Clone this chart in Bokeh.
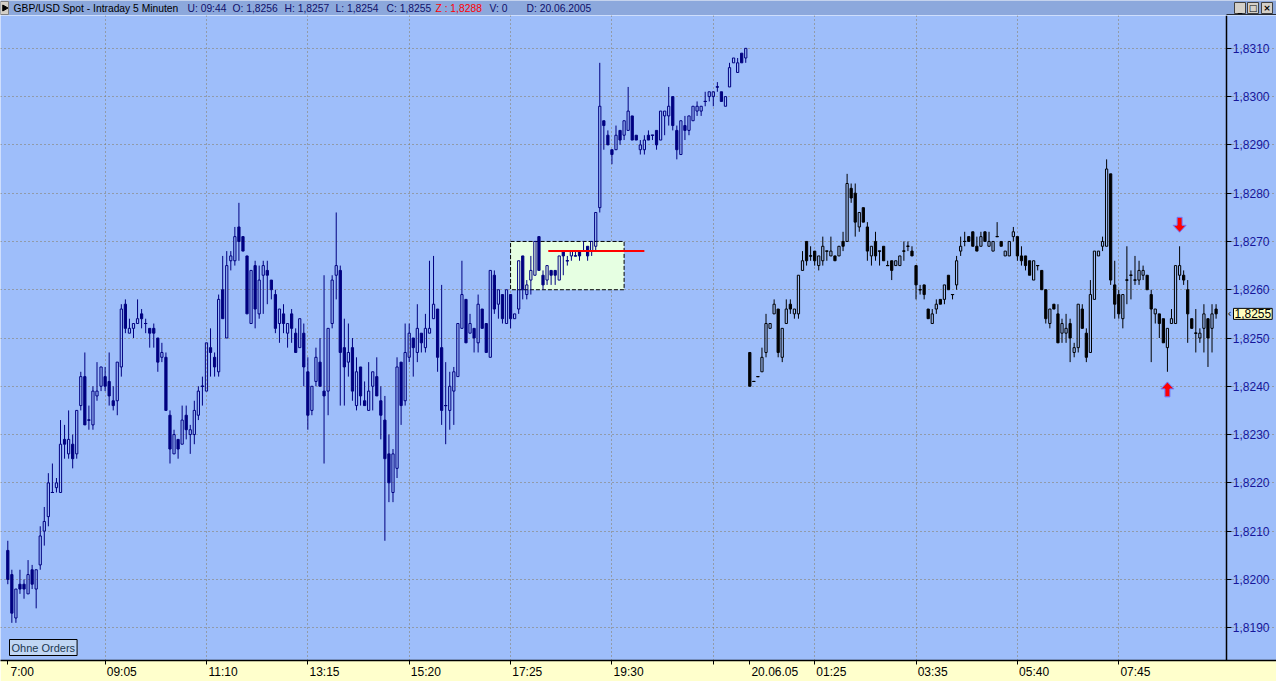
import math
from bokeh.plotting import figure
from bokeh.models import Range1d, FixedTicker, CustomJSTickFormatter, ColumnDataSource, Label
from bokeh.layouts import column
from bokeh.embed import file_html
from bokeh.resources import INLINE
from bokeh.core.properties import value

# ---------------- data: 5-minute candles (19.06 evening session, then 20.06.05) ----------------
opens = [
    1.8206, 1.8201, 1.8192, 1.8199, 1.8199, 1.8197, 1.8202, 1.8198, 1.8203, 1.8210,
    1.8213, 1.8218, 1.8219, 1.8218, 1.8229, 1.8226, 1.8228, 1.8226, 1.8236, 1.8242,
    1.8233, 1.8232, 1.8238, 1.8240, 1.8242, 1.8241, 1.8237, 1.8237, 1.8244, 1.8257,
    1.8251, 1.8252, 1.8253, 1.8255, 1.8253, 1.8252, 1.8252, 1.8250, 1.8246, 1.8246,
    1.8234, 1.8226, 1.8229, 1.8228, 1.8234, 1.8230, 1.8230, 1.8234, 1.8240, 1.8239,
    1.8248, 1.8246, 1.8243, 1.8260, 1.8250, 1.8266, 1.8266, 1.8273, 1.8271, 1.8267,
    1.8253, 1.8265, 1.8255, 1.8263, 1.8264, 1.8262, 1.8259, 1.8253, 1.8255, 1.8251,
    1.8255, 1.8251, 1.8248, 1.8251, 1.8243, 1.8235, 1.8241, 1.8245, 1.8239, 1.8239,
    1.8253, 1.8263, 1.8264, 1.8248, 1.8245, 1.8248, 1.8236, 1.8244, 1.8237, 1.8235,
    1.8240, 1.8242, 1.8237, 1.8233, 1.8226, 1.8218, 1.8223, 1.8245, 1.8237, 1.8246,
    1.8250, 1.8247, 1.8251, 1.8248, 1.8251, 1.8254, 1.8256, 1.8248, 1.8236, 1.8235,
    1.8239, 1.8242, 1.8252, 1.8258, 1.8251, 1.8252, 1.8249, 1.8256, 1.8253, 1.8246,
    1.8263, 1.8257, 1.8259, 1.8253, 1.8259, 1.8254, 1.8256, 1.8267, 1.8259, 1.8262,
    1.8263, 1.8271, 1.8263, 1.8262, 1.8264, 1.8264, 1.8262, 1.8268, 1.8266, 1.8267,
    1.8267, 1.8268, 1.8268, 1.8269, 1.8268, 1.8269, 1.8277, 1.8295, 1.8292, 1.8289,
    1.8289, 1.8293, 1.8292, 1.8293, 1.8296, 1.8292, 1.8289, 1.8289, 1.8292, 1.8292,
    1.8293, 1.8291, 1.8296, 1.8296, 1.8300, 1.8293, 1.8288, 1.8294, 1.8293, 1.8295,
    1.8297, 1.8297, 1.8299, 1.8300, 1.8300, 1.8302, 1.8301, 1.8298, 1.8302, 1.8307,
    1.8305, 1.8309, 1.8308,
    1.8247, 1.8241, 1.8242, 1.8243, 1.8247, 1.8252, 1.8255, 1.8256, 1.8246, 1.8253,
    1.8257, 1.8255, 1.8255, 1.8264, 1.8270, 1.8267, 1.8268, 1.8265, 1.8266, 1.8268,
    1.8267, 1.8267, 1.8267, 1.8270, 1.8270, 1.8281, 1.8280, 1.8273, 1.8277, 1.8273,
    1.8267, 1.8270, 1.8268, 1.8269, 1.8265, 1.8266, 1.8265, 1.8265, 1.8268, 1.8269,
    1.8268, 1.8265, 1.8260, 1.8261, 1.8256, 1.8253, 1.8256, 1.8258, 1.8258, 1.8263,
    1.8259, 1.8261, 1.8268, 1.8270, 1.8271, 1.8272, 1.8269, 1.8269, 1.8272, 1.8269,
    1.8268, 1.8271, 1.8270, 1.8267, 1.8267, 1.8271, 1.8271, 1.8267, 1.8267, 1.8266,
    1.8262, 1.8265, 1.8264, 1.8260, 1.8253, 1.8257, 1.8255, 1.8251, 1.8251, 1.8253,
    1.8247, 1.8248, 1.8256, 1.8251, 1.8247, 1.8258, 1.8267, 1.8269, 1.8269, 1.8284,
    1.8261, 1.8259, 1.8254, 1.8262, 1.8263, 1.8262, 1.8262, 1.8263, 1.8263, 1.8259,
    1.8255, 1.8255, 1.8254, 1.8248, 1.8253, 1.8253, 1.8263, 1.8263, 1.8260, 1.8254,
    1.8251, 1.8250, 1.8252, 1.8254, 1.8252, 1.8256,
]
highs = [
    1.8208, 1.8202, 1.8198, 1.8202, 1.8200, 1.8204, 1.8203, 1.8202, 1.8211, 1.8215,
    1.8222, 1.8224, 1.8221, 1.8233, 1.8232, 1.8235, 1.8230, 1.8235, 1.8243, 1.8247,
    1.8236, 1.8240, 1.8245, 1.8244, 1.8244, 1.8247, 1.8240, 1.8245, 1.8257, 1.8258,
    1.8254, 1.8253, 1.8258, 1.8256, 1.8254, 1.8252, 1.8253, 1.8250, 1.8249, 1.8247,
    1.8235, 1.8231, 1.8229, 1.8236, 1.8236, 1.8232, 1.8237, 1.8240, 1.8242, 1.8249,
    1.8252, 1.8247, 1.8259, 1.8267, 1.8268, 1.8268, 1.8273, 1.8278, 1.8271, 1.8267,
    1.8264, 1.8266, 1.8265, 1.8266, 1.8266, 1.8262, 1.8260, 1.8256, 1.8257, 1.8253,
    1.8256, 1.8252, 1.8254, 1.8253, 1.8246, 1.8240, 1.8248, 1.8250, 1.8263, 1.8252,
    1.8263, 1.8276, 1.8265, 1.8254, 1.8253, 1.8250, 1.8246, 1.8244, 1.8241, 1.8245,
    1.8243, 1.8246, 1.8240, 1.8238, 1.8230, 1.8227, 1.8246, 1.8245, 1.8253, 1.8253,
    1.8250, 1.8257, 1.8251, 1.8255, 1.8266, 1.8267, 1.8256, 1.8261, 1.8245, 1.8243,
    1.8244, 1.8253, 1.8266, 1.8258, 1.8255, 1.8252, 1.8259, 1.8256, 1.8253, 1.8264,
    1.8264, 1.8260, 1.8259, 1.8260, 1.8259, 1.8255, 1.8266, 1.8267, 1.8262, 1.8267,
    1.8270, 1.8271, 1.8264, 1.8265, 1.8264, 1.8264, 1.8267, 1.8268, 1.8267, 1.8268,
    1.8268, 1.8268, 1.8270, 1.8269, 1.8270, 1.8276, 1.8307, 1.8295, 1.8293, 1.8289,
    1.8294, 1.8293, 1.8295, 1.8302, 1.8296, 1.8292, 1.8291, 1.8292, 1.8293, 1.8292,
    1.8293, 1.8297, 1.8297, 1.8302, 1.8300, 1.8294, 1.8295, 1.8296, 1.8296, 1.8298,
    1.8299, 1.8298, 1.8301, 1.8301, 1.8301, 1.8303, 1.8301, 1.8300, 1.8307, 1.8308,
    1.8308, 1.8309, 1.8310,
    1.8247, 1.8241, 1.8242, 1.8248, 1.8255, 1.8253, 1.8258, 1.8256, 1.8252, 1.8258,
    1.8258, 1.8256, 1.8263, 1.8268, 1.8270, 1.8269, 1.8268, 1.8267, 1.8271, 1.8268,
    1.8271, 1.8267, 1.8269, 1.8272, 1.8284, 1.8282, 1.8282, 1.8276, 1.8277, 1.8274,
    1.8269, 1.8272, 1.8268, 1.8269, 1.8266, 1.8266, 1.8266, 1.8267, 1.8270, 1.8270,
    1.8269, 1.8265, 1.8261, 1.8261, 1.8256, 1.8256, 1.8258, 1.8258, 1.8261, 1.8263,
    1.8259, 1.8267, 1.8271, 1.8272, 1.8271, 1.8272, 1.8271, 1.8272, 1.8272, 1.8272,
    1.8270, 1.8274, 1.8270, 1.8268, 1.8270, 1.8273, 1.8271, 1.8269, 1.8267, 1.8266,
    1.8266, 1.8265, 1.8264, 1.8260, 1.8256, 1.8257, 1.8257, 1.8254, 1.8255, 1.8254,
    1.8249, 1.8257, 1.8257, 1.8252, 1.8262, 1.8268, 1.8268, 1.8271, 1.8287, 1.8284,
    1.8266, 1.8260, 1.8259, 1.8269, 1.8264, 1.8267, 1.8266, 1.8265, 1.8263, 1.8260,
    1.8256, 1.8255, 1.8254, 1.8252, 1.8256, 1.8265, 1.8269, 1.8264, 1.8262, 1.8254,
    1.8256, 1.8252, 1.8257, 1.8254, 1.8257, 1.8257,
]
lows = [
    1.8199, 1.8191, 1.8191, 1.8197, 1.8196, 1.8197, 1.8198, 1.8194, 1.8202, 1.8207,
    1.8211, 1.8218, 1.8218, 1.8218, 1.8225, 1.8225, 1.8223, 1.8225, 1.8235, 1.8232,
    1.8231, 1.8231, 1.8237, 1.8239, 1.8239, 1.8236, 1.8235, 1.8234, 1.8242, 1.8251,
    1.8251, 1.8250, 1.8253, 1.8252, 1.8251, 1.8248, 1.8248, 1.8243, 1.8245, 1.8235,
    1.8224, 1.8226, 1.8225, 1.8228, 1.8229, 1.8226, 1.8228, 1.8233, 1.8236, 1.8239,
    1.8242, 1.8242, 1.8242, 1.8254, 1.8250, 1.8264, 1.8265, 1.8266, 1.8268, 1.8255,
    1.8253, 1.8252, 1.8254, 1.8255, 1.8257, 1.8258, 1.8251, 1.8249, 1.8251, 1.8248,
    1.8249, 1.8247, 1.8248, 1.8240, 1.8231, 1.8234, 1.8240, 1.8240, 1.8224, 1.8234,
    1.8252, 1.8258, 1.8236, 1.8236, 1.8242, 1.8237, 1.8235, 1.8236, 1.8236, 1.8235,
    1.8235, 1.8238, 1.8229, 1.8208, 1.8216, 1.8216, 1.8221, 1.8232, 1.8236, 1.8245,
    1.8242, 1.8245, 1.8247, 1.8247, 1.8251, 1.8254, 1.8243, 1.8232, 1.8228, 1.8231,
    1.8232, 1.8242, 1.8252, 1.8249, 1.8251, 1.8247, 1.8247, 1.8252, 1.8247, 1.8246,
    1.8255, 1.8254, 1.8253, 1.8253, 1.8252, 1.8254, 1.8255, 1.8258, 1.8258, 1.8259,
    1.8263, 1.8264, 1.8260, 1.8261, 1.8261, 1.8261, 1.8262, 1.8263, 1.8265, 1.8266,
    1.8267, 1.8266, 1.8268, 1.8266, 1.8267, 1.8268, 1.8276, 1.8289, 1.8290, 1.8286,
    1.8289, 1.8290, 1.8291, 1.8293, 1.8291, 1.8291, 1.8288, 1.8288, 1.8291, 1.8291,
    1.8289, 1.8291, 1.8292, 1.8294, 1.8293, 1.8287, 1.8288, 1.8291, 1.8292, 1.8295,
    1.8296, 1.8296, 1.8298, 1.8299, 1.8298, 1.8301, 1.8299, 1.8298, 1.8302, 1.8307,
    1.8305, 1.8307, 1.8307,
    1.8240, 1.8241, 1.8242, 1.8243, 1.8246, 1.8252, 1.8255, 1.8246, 1.8245, 1.8253,
    1.8255, 1.8254, 1.8254, 1.8264, 1.8265, 1.8266, 1.8265, 1.8264, 1.8265, 1.8266,
    1.8267, 1.8266, 1.8267, 1.8268, 1.8270, 1.8278, 1.8271, 1.8272, 1.8274, 1.8266,
    1.8265, 1.8266, 1.8265, 1.8266, 1.8265, 1.8262, 1.8265, 1.8265, 1.8266, 1.8268,
    1.8267, 1.8258, 1.8259, 1.8258, 1.8254, 1.8253, 1.8255, 1.8257, 1.8257, 1.8260,
    1.8258, 1.8260, 1.8267, 1.8269, 1.8270, 1.8269, 1.8268, 1.8269, 1.8270, 1.8269,
    1.8268, 1.8271, 1.8269, 1.8267, 1.8267, 1.8270, 1.8266, 1.8265, 1.8264, 1.8263,
    1.8262, 1.8264, 1.8260, 1.8253, 1.8252, 1.8256, 1.8249, 1.8249, 1.8249, 1.8245,
    1.8246, 1.8247, 1.8252, 1.8245, 1.8247, 1.8258, 1.8267, 1.8268, 1.8269, 1.8261,
    1.8254, 1.8254, 1.8252, 1.8257, 1.8258, 1.8261, 1.8261, 1.8262, 1.8260, 1.8245,
    1.8253, 1.8250, 1.8249, 1.8243, 1.8253, 1.8253, 1.8262, 1.8261, 1.8249, 1.8252,
    1.8247, 1.8249, 1.8247, 1.8244, 1.8247, 1.8254,
]
closes = [
    1.8200, 1.8193, 1.8198, 1.8198, 1.8198, 1.8201, 1.8199, 1.8202, 1.8209, 1.8212,
    1.8220, 1.8218, 1.8220, 1.8228, 1.8228, 1.8229, 1.8225, 1.8235, 1.8242, 1.8232,
    1.8233, 1.8239, 1.8239, 1.8244, 1.8240, 1.8238, 1.8236, 1.8245, 1.8256, 1.8252,
    1.8252, 1.8253, 1.8254, 1.8254, 1.8253, 1.8251, 1.8251, 1.8245, 1.8247, 1.8235,
    1.8227, 1.8230, 1.8227, 1.8233, 1.8231, 1.8231, 1.8235, 1.8239, 1.8240, 1.8249,
    1.8247, 1.8244, 1.8258, 1.8254, 1.8265, 1.8267, 1.8271, 1.8270, 1.8268, 1.8255,
    1.8264, 1.8256, 1.8262, 1.8265, 1.8263, 1.8260, 1.8252, 1.8256, 1.8253, 1.8253,
    1.8252, 1.8247, 1.8254, 1.8244, 1.8234, 1.8240, 1.8246, 1.8240, 1.8238, 1.8252,
    1.8262, 1.8265, 1.8247, 1.8244, 1.8247, 1.8239, 1.8243, 1.8238, 1.8236, 1.8239,
    1.8243, 1.8238, 1.8234, 1.8225, 1.8220, 1.8226, 1.8244, 1.8236, 1.8247, 1.8251,
    1.8248, 1.8252, 1.8249, 1.8252, 1.8252, 1.8257, 1.8246, 1.8235, 1.8236, 1.8240,
    1.8243, 1.8253, 1.8259, 1.8249, 1.8253, 1.8250, 1.8257, 1.8252, 1.8247, 1.8264,
    1.8256, 1.8260, 1.8254, 1.8260, 1.8254, 1.8255, 1.8266, 1.8260, 1.8261, 1.8264,
    1.8270, 1.8264, 1.8261, 1.8265, 1.8263, 1.8263, 1.8267, 1.8267, 1.8266, 1.8268,
    1.8267, 1.8267, 1.8268, 1.8267, 1.8270, 1.8276, 1.8298, 1.8294, 1.8290, 1.8288,
    1.8292, 1.8291, 1.8295, 1.8297, 1.8291, 1.8291, 1.8290, 1.8291, 1.8291, 1.8292,
    1.8290, 1.8297, 1.8297, 1.8298, 1.8294, 1.8289, 1.8295, 1.8293, 1.8296, 1.8298,
    1.8298, 1.8298, 1.8299, 1.8301, 1.8301, 1.8302, 1.8299, 1.8300, 1.8306, 1.8308,
    1.8307, 1.8307, 1.8310,
    1.8240, 1.8241, 1.8242, 1.8246, 1.8253, 1.8253, 1.8257, 1.8247, 1.8252, 1.8256,
    1.8256, 1.8256, 1.8263, 1.8266, 1.8266, 1.8267, 1.8266, 1.8267, 1.8269, 1.8268,
    1.8268, 1.8266, 1.8269, 1.8269, 1.8282, 1.8279, 1.8274, 1.8276, 1.8274, 1.8268,
    1.8269, 1.8267, 1.8268, 1.8266, 1.8265, 1.8264, 1.8266, 1.8267, 1.8268, 1.8269,
    1.8267, 1.8261, 1.8260, 1.8259, 1.8254, 1.8255, 1.8257, 1.8257, 1.8261, 1.8260,
    1.8259, 1.8266, 1.8269, 1.8270, 1.8270, 1.8269, 1.8268, 1.8271, 1.8270, 1.8270,
    1.8270, 1.8271, 1.8269, 1.8268, 1.8270, 1.8272, 1.8267, 1.8266, 1.8265, 1.8263,
    1.8266, 1.8265, 1.8260, 1.8254, 1.8256, 1.8256, 1.8249, 1.8253, 1.8252, 1.8250,
    1.8248, 1.8257, 1.8252, 1.8246, 1.8259, 1.8268, 1.8268, 1.8270, 1.8285, 1.8262,
    1.8257, 1.8255, 1.8259, 1.8262, 1.8263, 1.8262, 1.8264, 1.8264, 1.8260, 1.8256,
    1.8256, 1.8253, 1.8249, 1.8252, 1.8254, 1.8265, 1.8265, 1.8262, 1.8255, 1.8252,
    1.8251, 1.8251, 1.8255, 1.8250, 1.8255, 1.8255,
]
SESSION_BREAK = 183          # first candle of 20.06.05

y_ticks = [1.8190, 1.8200, 1.8210, 1.8220, 1.8230, 1.8240, 1.8250,
           1.8260, 1.8270, 1.8280, 1.8290, 1.8300, 1.8310]
x_tick_pos = [0, 24, 49, 74, 99, 124, 149, 174, 183, 199, 224, 249, 274]
x_tick_labels = ["7:00", "09:05", "11:10", "13:15", "15:20", "17:25", "19:30", "",
                 "20.06.05", "01:25", "03:35", "05:40", "07:45"]
x_grid_pos = [24, 49, 74, 99, 124, 149, 174, 199, 224, 249, 274]

current_price = 1.8255
current_label = "1,8255"

title_parts = ["GBP/USD Spot - Intraday 5 Minuten", "U: 09:44", "O: 1,8256", "H: 1,8257",
               "L: 1,8254", "C: 1,8255", "Z : 1,8288", "V: 0", "D: 20.06.2005"]
title_colors = ["#000000", "#10106a", "#10106a", "#10106a", "#10106a", "#10106a",
                "#ff0000", "#10106a", "#10106a"]
title_x = [13, 187, 232, 284, 335, 386, 435, 489, 526]

# marked consolidation box and breakout level
box_left, box_right, box_bottom, box_top = 124, 152, 1.8260, 1.8270
level_price, level_from, level_to = 1.8268, 133.3, 157.0

# signal arrows (tip position, direction +1 = up, -1 = down)
signal_idx = [289, 286]
signal_tip = [1.82719, 1.82409]
signal_dir = [-1, 1]

# ---------------- styling ----------------
BG = "#9ebefa"
TITLE_BG = "#8ca8dc"
YELLOW = "#ffffcc"
GRID = "#85795b"
FONT = "Liberation Sans"

FIG_W, HEAD_H, MAIN_H = 1276, 15, 666
XAXIS_H = 18
FRAME_H = MAIN_H - XAXIS_H
AXIS_PX = 1226                    # price axis line position (pixels from left)
X_LO, X_HI = -1.8, 312.9          # the frame spans the full width
Y_LO, Y_HI = 1.81832, 1.83168
px_x = (X_HI - X_LO) / FIG_W
px_y = (Y_HI - Y_LO) / FRAME_H
AXIS_X = X_LO + AXIS_PX * px_x

# ---------------- header (title bar) ----------------
h = figure(width=FIG_W, height=HEAD_H, x_range=Range1d(0, FIG_W), y_range=Range1d(0, HEAD_H),
           toolbar_location=None, output_backend="svg", x_axis_location=None,
           y_axis_location=None, min_border=0)
h.background_fill_color = TITLE_BG
h.border_fill_color = TITLE_BG
h.outline_line_color = None
h.grid.visible = False
tsrc = ColumnDataSource(dict(x=title_x, y=[7.5] * len(title_x), t=title_parts, c=title_colors))
h.text(x="x", y="y", text="t", text_color="c", source=tsrc, text_font=value(FONT),
       text_font_size="10.3px", text_baseline="middle", text_align="left")
h.quad(left=[0], right=[8], bottom=[1], top=[14], fill_color="#d4d0c8", line_color="#808080")
h.scatter(x=[4], y=[7.5], marker="triangle", angle=-math.pi / 2, size=6, color="black")
h.quad(left=[1234, 1247, 1261], right=[1245, 1258, 1272], bottom=[2, 2, 2], top=[13, 13, 13],
       fill_color="#d4d0c8", line_color="#404040")
h.text(x=[1239.5, 1252.5, 1266.5], y=[7.0, 7.5, 7.5], text=["_", "□", "×"],
       text_font=value("DejaVu Sans"), text_font_size="9px", text_font_style="bold",
       text_align="center", text_baseline="middle", text_color="black")
h.segment(x0=[AXIS_PX], x1=[FIG_W], y0=[0.5], y1=[0.5], line_color="black", line_width=1.5)

# ---------------- main chart ----------------
p = figure(width=FIG_W, height=MAIN_H, x_range=Range1d(X_LO, X_HI), y_range=Range1d(Y_LO, Y_HI),
           y_axis_location="left", toolbar_location=None, output_backend="svg",
           min_border_left=0, min_border_top=0, min_border_right=0, min_border_bottom=XAXIS_H)
p.background_fill_color = BG
p.border_fill_color = YELLOW
p.outline_line_color = None

# price axis: drawn at the price-panel edge, labels to its right
yax = p.yaxis[0]
yax.fixed_location = AXIS_X
yax.ticker = FixedTicker(ticks=y_ticks)
yax.formatter = CustomJSTickFormatter(code="return tick.toFixed(4).replace('.', ',');")
yax.axis_line_color = "black"
yax.axis_line_width = 1.5
yax.major_tick_line_color = "black"
yax.major_tick_out = 0
yax.major_tick_in = 5
yax.minor_tick_line_color = None
yax.major_label_standoff = -43
yax.major_label_text_font = FONT
yax.major_label_text_font_size = "12px"
yax.major_label_text_color = "#16169a"


def _lead(s, n=None):
    # tick labels start at their tick (left aligned) like in the original
    if not s:
        return s
    if n is None:
        n = sum(2 if ch.isdigit() else 1 for ch in s) + 1
    return "\u00a0" * n + s


xax = p.xaxis[0]
xax.ticker = FixedTicker(ticks=x_tick_pos)
xax.major_label_overrides = {k: _lead(v, 3 if k == x_tick_pos[0] else None)
                             for k, v in zip(x_tick_pos, x_tick_labels)}
xax.axis_line_color = "black"
xax.axis_line_width = 1.5
xax.major_tick_line_color = "black"
xax.major_tick_out = 4
xax.major_tick_in = 0
xax.minor_tick_line_color = None
xax.major_label_standoff = 0
xax.major_label_text_font = FONT
xax.major_label_text_font_size = "12px"
xax.major_label_text_color = "black"

p.xgrid.ticker = FixedTicker(ticks=x_grid_pos)
p.ygrid.ticker = FixedTicker(ticks=y_ticks)
p.ygrid.bounds = (X_LO, AXIS_X)
p.grid.grid_line_color = GRID
p.grid.grid_line_dash = "1 3"
p.grid.grid_line_width = 1

# consolidation box
p.quad(left=[box_left], right=[box_right], bottom=[box_bottom], top=[box_top],
       fill_color="#e6ffe2", line_color="black", line_dash="4 2", line_width=1)

# candles
n = len(opens)
idx = list(range(n))
cols = ["#000080" if i < SESSION_BREAK else "#000000" for i in idx]
tops = [max(o, c) for o, c in zip(opens, closes)]
bots = [min(o, c) for o, c in zip(opens, closes)]
falpha = [0.0 if c > o else 1.0 for o, c in zip(opens, closes)]
src = ColumnDataSource(dict(x=idx, h=highs, l=lows, top=tops, bot=bots, col=cols, fa=falpha))
p.segment(x0="x", x1="x", y0="top", y1="h", line_color="col", line_width=1, source=src)
p.segment(x0="x", x1="x", y0="l", y1="bot", line_color="col", line_width=1, source=src)
p.vbar(x="x", width=0.55, top="top", bottom="bot", fill_color="col", fill_alpha="fa",
       line_color="col", line_width=1, source=src)
dj = [i for i in idx if opens[i] == closes[i]]
dsrc = ColumnDataSource(dict(x0=[i - 0.4 for i in dj], x1=[i + 0.4 for i in dj],
                             y=[opens[i] for i in dj], col=[cols[i] for i in dj]))
p.segment(x0="x0", x1="x1", y0="y", y1="y", line_color="col", line_width=1, source=dsrc)

# breakout level
p.segment(x0=[level_from], x1=[level_to], y0=[level_price], y1=[level_price],
          line_color="#ff0000", line_width=2)

# signal arrows
axs, ays = [], []
for xi, tip, d in zip(signal_idx, signal_tip, signal_dir):
    hw, sw = 6.5 * px_x, 2.5 * px_x
    hh, sl = 7 * px_y * d, 15 * px_y * d
    axs.append([xi, xi + hw, xi + sw, xi + sw, xi - sw, xi - sw, xi - hw])
    ays.append([tip, tip - hh, tip - hh, tip - sl, tip - sl, tip - hh, tip - hh])
p.patches(axs, ays, fill_color="#ff0000", line_color="#6f78ff", line_width=1)

# "Ohne Orders" button
p.add_layout(Label(x=9, y=5, x_units="screen", y_units="screen", text="Ohne Orders",
                   text_font=FONT, text_font_size="11px", text_color="#203850",
                   background_fill_color="#c0d6f4", border_line_color="black",
                   border_line_width=1, padding=2))

# current price marker on the price axis
p.add_layout(Label(x=AXIS_PX + 7, y=current_price, x_units="screen", y_units="data",
                   text=current_label, text_font=FONT, text_font_size="12px",
                   text_color="black", text_baseline="middle",
                   background_fill_color="#ffffc0", border_line_color="black",
                   border_line_width=1, padding=1))
p.add_layout(Label(x=AXIS_PX + 1, y=current_price, x_units="screen", y_units="data",
                   text="‹", text_font="DejaVu Sans", text_font_size="10px",
                   text_color="black", text_baseline="middle"))

layout = column(h, p)
open("out.html", "w").write(file_html(layout, INLINE))
